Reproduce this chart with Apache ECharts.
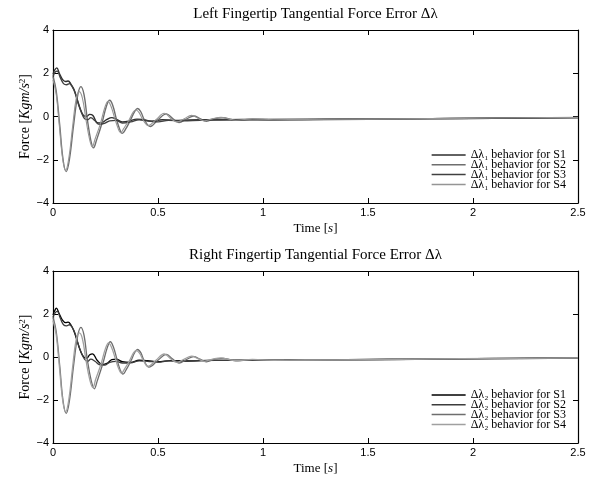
<!DOCTYPE html>
<html>
<head>
<meta charset="utf-8">
<script src="https://cdn.jsdelivr.net/npm/echarts@6/dist/echarts.min.js"></script>
<style>html,body{margin:0;padding:0;background:#fff}#c{width:592px;height:478px}</style>
</head>
<body>
<div id="c"></div>
<script>
// ---- data (time [s], force) ----
const xTicks = [0, 0.5, 1, 1.5, 2, 2.5];
const yTicks = [-4, -2, 0, 2, 4];

const topS1 = [[0,1.95],[0.008,2.15],[0.018,2.25],[0.03,2.0],[0.045,1.72],[0.06,1.62],[0.072,1.64],[0.085,1.5],[0.1,1.25],[0.115,0.8],[0.13,0.35],[0.145,0.05],[0.16,0.0],[0.175,0.1],[0.19,0.05],[0.21,-0.28],[0.23,-0.3],[0.255,-0.15],[0.28,-0.05],[0.3,-0.12],[0.33,-0.25],[0.36,-0.22],[0.4,-0.12],[0.43,-0.15],[0.47,-0.22],[0.52,-0.15],[0.58,-0.18],[0.65,-0.16],[0.75,-0.15],[0.9,-0.14],[1.1,-0.14],[1.4,-0.12],[1.8,-0.1],[2.2,-0.07],[2.5,-0.05]];
const topS3 = [[0,1.85],[0.01,2.05],[0.02,2.1],[0.035,1.8],[0.05,1.52],[0.065,1.47],[0.078,1.52],[0.09,1.4],[0.105,1.1],[0.12,0.6],[0.135,0.2],[0.15,-0.1],[0.165,-0.15],[0.18,-0.05],[0.2,-0.2],[0.22,-0.36],[0.245,-0.32],[0.27,-0.2],[0.3,-0.18],[0.33,-0.3],[0.37,-0.25],[0.41,-0.15],[0.45,-0.2],[0.5,-0.25],[0.55,-0.18],[0.62,-0.2],[0.7,-0.17],[0.8,-0.16],[1.0,-0.15],[1.3,-0.13],[1.7,-0.11],[2.1,-0.08],[2.5,-0.05]];
const topS2 = [[0,1.85],[0.015,1.2],[0.032,-0.4],[0.048,-2.0],[0.063,-2.55],[0.078,-2.0],[0.098,-0.4],[0.118,1.0],[0.133,1.38],[0.148,1.0],[0.163,-0.1],[0.18,-1.1],[0.193,-1.45],[0.207,-1.1],[0.232,-0.35],[0.255,0.5],[0.27,0.75],[0.285,0.5],[0.3,-0.05],[0.318,-0.6],[0.33,-0.78],[0.345,-0.6],[0.367,-0.2],[0.39,0.25],[0.403,0.37],[0.418,0.22],[0.435,-0.15],[0.463,-0.46],[0.5,-0.15],[0.54,0.12],[0.57,-0.1],[0.6,-0.28],[0.635,-0.12],[0.67,0.02],[0.7,-0.1],[0.73,-0.22],[0.77,-0.1],[0.81,-0.06],[0.85,-0.14],[0.88,-0.18],[0.95,-0.12],[1.05,-0.16],[1.2,-0.15],[1.5,-0.13],[1.8,-0.1],[2.1,-0.08],[2.5,-0.05]];
const topS4 = [[0,1.7],[0.015,1.05],[0.03,-0.4],[0.046,-1.95],[0.06,-2.5],[0.075,-1.95],[0.093,-0.5],[0.11,0.8],[0.125,1.15],[0.14,0.85],[0.157,-0.15],[0.174,-1.05],[0.187,-1.4],[0.2,-1.05],[0.225,-0.35],[0.248,0.45],[0.262,0.7],[0.277,0.45],[0.293,-0.05],[0.31,-0.55],[0.322,-0.75],[0.337,-0.55],[0.36,-0.2],[0.382,0.2],[0.395,0.3],[0.41,0.18],[0.428,-0.15],[0.455,-0.42],[0.49,-0.15],[0.53,0.15],[0.56,-0.08],[0.59,-0.25],[0.625,-0.1],[0.66,0.05],[0.69,-0.08],[0.72,-0.2],[0.76,-0.1],[0.8,-0.04],[0.84,-0.12],[0.87,-0.17],[0.95,-0.11],[1.05,-0.15],[1.2,-0.14],[1.5,-0.12],[1.8,-0.1],[2.1,-0.07],[2.5,-0.04]];

const botS1 = [[0,1.95],[0.008,2.15],[0.016,2.27],[0.028,2.05],[0.045,1.72],[0.06,1.6],[0.072,1.62],[0.085,1.5],[0.1,1.2],[0.115,0.75],[0.13,0.3],[0.145,0.02],[0.16,-0.05],[0.175,0.1],[0.188,0.15],[0.21,-0.15],[0.235,-0.35],[0.26,-0.28],[0.28,-0.12],[0.3,-0.1],[0.33,-0.22],[0.37,-0.25],[0.41,-0.15],[0.45,-0.17],[0.5,-0.22],[0.56,-0.17],[0.65,-0.18],[0.75,-0.16],[0.9,-0.15],[1.1,-0.14],[1.4,-0.12],[1.8,-0.09],[2.2,-0.06],[2.5,-0.04]];
const botS2 = [[0,1.85],[0.01,2.05],[0.02,2.12],[0.035,1.8],[0.05,1.5],[0.065,1.45],[0.078,1.5],[0.09,1.4],[0.105,1.1],[0.12,0.6],[0.135,0.2],[0.15,-0.1],[0.165,-0.2],[0.18,-0.1],[0.2,-0.2],[0.22,-0.35],[0.245,-0.38],[0.27,-0.25],[0.3,-0.2],[0.33,-0.28],[0.37,-0.27],[0.41,-0.18],[0.45,-0.2],[0.5,-0.24],[0.55,-0.18],[0.62,-0.2],[0.7,-0.17],[0.8,-0.16],[1.0,-0.15],[1.3,-0.13],[1.7,-0.11],[2.1,-0.08],[2.5,-0.05]];
const botS3 = [[0,1.85],[0.015,1.2],[0.032,-0.4],[0.048,-2.05],[0.063,-2.62],[0.078,-2.05],[0.098,-0.4],[0.118,1.0],[0.133,1.38],[0.148,1.0],[0.163,-0.1],[0.182,-1.1],[0.197,-1.48],[0.211,-1.1],[0.236,-0.35],[0.259,0.45],[0.273,0.71],[0.288,0.45],[0.303,-0.05],[0.32,-0.6],[0.333,-0.8],[0.348,-0.6],[0.37,-0.2],[0.39,0.22],[0.403,0.35],[0.418,0.2],[0.433,-0.15],[0.457,-0.47],[0.5,-0.15],[0.54,0.12],[0.57,-0.1],[0.6,-0.28],[0.635,-0.12],[0.67,0.02],[0.7,-0.1],[0.73,-0.22],[0.77,-0.1],[0.81,-0.06],[0.85,-0.14],[0.88,-0.18],[0.95,-0.12],[1.05,-0.16],[1.2,-0.15],[1.5,-0.13],[1.8,-0.1],[2.1,-0.07],[2.5,-0.04]];
const botS4 = [[0,1.7],[0.015,1.05],[0.03,-0.4],[0.046,-2.0],[0.06,-2.55],[0.075,-2.0],[0.093,-0.5],[0.11,0.8],[0.125,1.12],[0.14,0.85],[0.157,-0.15],[0.175,-1.05],[0.19,-1.42],[0.203,-1.05],[0.228,-0.35],[0.25,0.4],[0.265,0.66],[0.28,0.42],[0.296,-0.05],[0.313,-0.55],[0.326,-0.75],[0.341,-0.55],[0.363,-0.2],[0.384,0.2],[0.397,0.3],[0.412,0.18],[0.43,-0.15],[0.452,-0.44],[0.49,-0.15],[0.53,0.14],[0.56,-0.08],[0.59,-0.25],[0.625,-0.1],[0.66,0.04],[0.69,-0.08],[0.72,-0.2],[0.76,-0.1],[0.8,-0.04],[0.84,-0.12],[0.87,-0.17],[0.95,-0.11],[1.05,-0.15],[1.2,-0.14],[1.5,-0.12],[1.8,-0.09],[2.1,-0.07],[2.5,-0.04]];

const topNames = ['Δλ₁ behavior for S1','Δλ₁ behavior for S2','Δλ₁ behavior for S3','Δλ₁ behavior for S4'];
const botNames = ['Δλ₂ behavior for S1','Δλ₂ behavior for S2','Δλ₂ behavior for S3','Δλ₂ behavior for S4'];
const titles = ['Left Fingertip Tangential Force Error Δλ', 'Right Fingertip Tangential Force Error Δλ'];

// ---- styling ----
const serif = 'Liberation Serif';
const sans = 'Liberation Sans';
const topColors = ['#2e2e2e', '#6e6e6e', '#404040', '#959595'];
const botColors = ['#000000', '#3c3c3c', '#6e6e6e', '#a0a0a0'];

const chart = echarts.init(document.getElementById('c'), null, {renderer: 'canvas'});

const grids = [
  {left: 53, top: 30, width: 525, height: 173},
  {left: 53, top: 271, width: 525, height: 172}
];

function fmtMinus(v) { return String(v).replace('-', '\u2212'); }

const xAxes = [], yAxes = [];
[0, 1].forEach(g => {
  xAxes.push({
    type: 'value', gridIndex: g, min: 0, max: 2.5, interval: 0.5, position: 'bottom',
    axisLine: {show: true, onZero: false, lineStyle: {color: '#000', width: 1.2}},
    axisTick: {show: true, inside: true, length: 5, lineStyle: {color: '#000'}},
    axisLabel: {color: '#000', fontFamily: sans, fontSize: 11, margin: 4, formatter: v => fmtMinus(v)},
    splitLine: {show: false},
    name: 'Time [{i|s}]', nameLocation: 'middle', nameGap: 19,
    nameTextStyle: {fontFamily: serif, fontSize: 13, color: '#000', rich: {i: {fontFamily: serif, fontStyle: 'italic', fontSize: 13}}}
  });
  xAxes.push({
    type: 'value', gridIndex: g, min: 0, max: 2.5, interval: 0.5, position: 'top',
    axisLine: {show: true, onZero: false, lineStyle: {color: '#000', width: 1.2}},
    axisTick: {show: true, inside: true, length: 5, lineStyle: {color: '#000'}},
    axisLabel: {show: false}, splitLine: {show: false},
    name: titles[g], nameLocation: 'middle', nameGap: 8, nameMoveOverlap: false,
    nameTextStyle: {fontFamily: serif, fontSize: 15, color: '#000'}
  });
  yAxes.push({
    type: 'value', gridIndex: g, min: -4, max: 4, interval: 2, position: 'left',
    axisLine: {show: true, onZero: false, lineStyle: {color: '#000', width: 1.2}},
    axisTick: {show: true, inside: true, length: 5, lineStyle: {color: '#000'}},
    axisLabel: {color: '#000', fontFamily: sans, fontSize: 11, margin: 4, formatter: v => fmtMinus(v)},
    splitLine: {show: false},
    name: 'Force [{i|Kgm/s}{sup|2}]', nameLocation: 'middle', nameGap: 20, nameRotate: 90, nameMoveOverlap: false,
    nameTextStyle: {fontFamily: serif, fontSize: 14, color: '#000',
      rich: {i: {fontFamily: serif, fontStyle: 'italic', fontSize: 14}, sup: {fontFamily: serif, fontSize: 9, verticalAlign: 'top', padding: [0,0,6,0]}}}
  });
  yAxes.push({
    type: 'value', gridIndex: g, min: -4, max: 4, interval: 2, position: 'right',
    axisLine: {show: true, onZero: false, lineStyle: {color: '#000', width: 1.2}},
    axisTick: {show: true, inside: true, length: 5, lineStyle: {color: '#000'}},
    axisLabel: {show: false}, splitLine: {show: false}
  });
});

function mkSeries(name, data, color, g, w) {
  return {
    name, type: 'line', data, xAxisIndex: g * 2, yAxisIndex: g * 2,
    smooth: 0.4, symbol: 'none', showSymbol: false,
    lineStyle: {color, width: w}, itemStyle: {color}, z: 3, animation: false
  };
}

const topData = [topS1, topS2, topS3, topS4];
const botData = [botS1, botS2, botS3, botS4];
const series = [];
topData.forEach((d, i) => series.push(mkSeries(topNames[i], d, topColors[i], 0, i === 3 ? 1.1 : 1.4)));
botData.forEach((d, i) => series.push(mkSeries(botNames[i], d, botColors[i], 1, 1.3)));

function mkLegend(names, top) {
  return {
    data: names, orient: 'vertical', right: 26, top,
    icon: 'rect', itemWidth: 34, itemHeight: 1.5, itemGap: -2.2, padding: 0,
    textStyle: {fontFamily: serif, fontSize: 12, color: '#000', lineHeight: 10, padding: [0,0,0,0]},
    selectedMode: false
  };
}

chart.setOption({
  animation: false,
  backgroundColor: '#fff',
  grid: grids,
  xAxis: xAxes,
  yAxis: yAxes,
  legend: [mkLegend(topNames, 149), mkLegend(botNames, 389)],
  series
});
</script>
</body>
</html>
